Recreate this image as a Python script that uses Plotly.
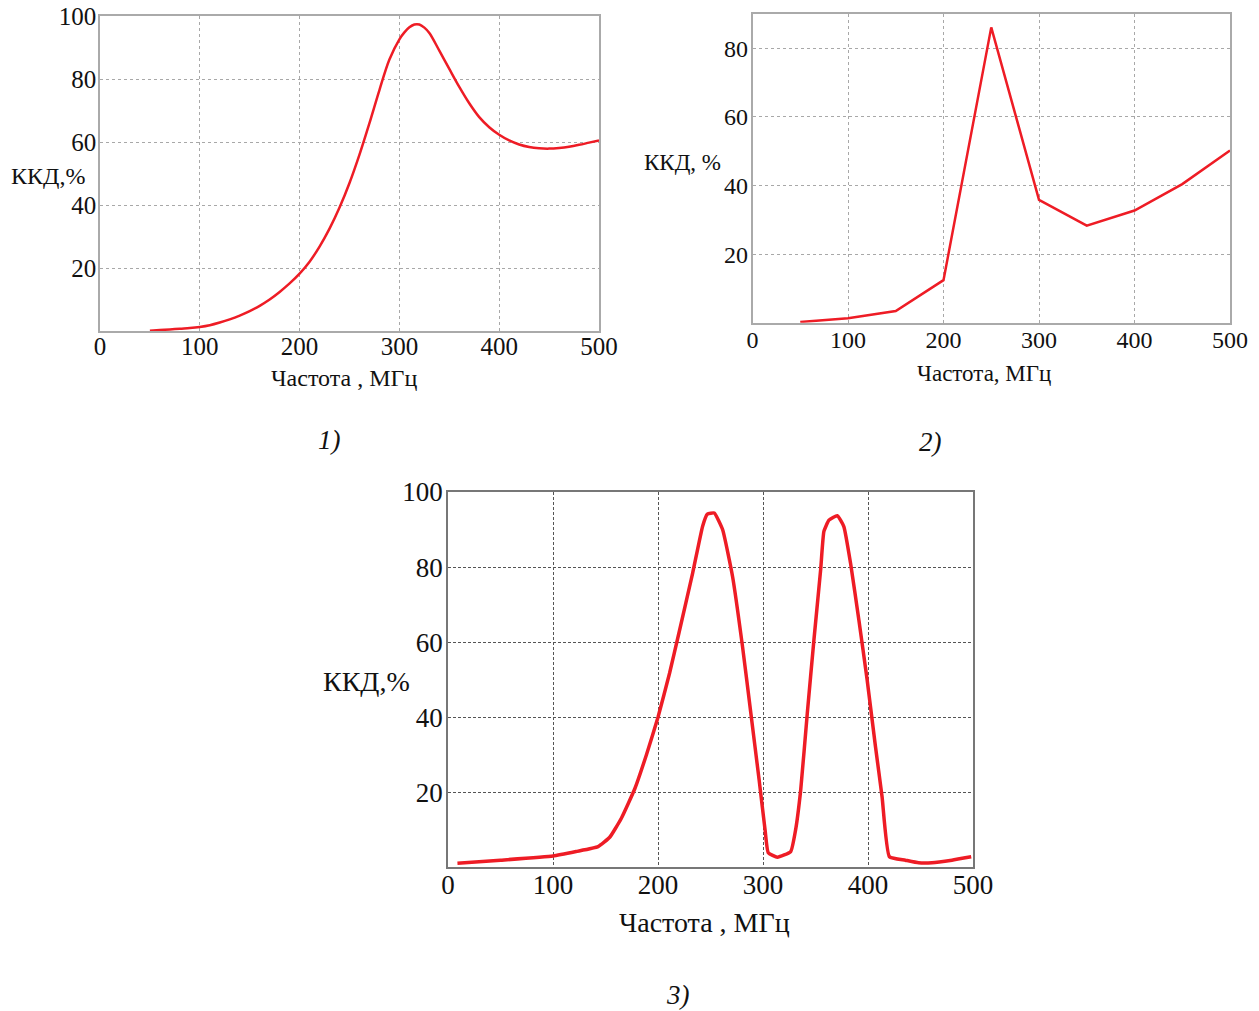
import plotly.graph_objects as go

W, H = 1259, 1011
SERIF = "Liberation Serif"
RED = "#ee1c25"

# Panel 1: smooth efficiency curve
freq_1 = [50, 60, 70, 80, 90, 100, 110, 120, 130, 140, 150, 160, 170, 180, 190,
          200, 210, 220, 230, 240, 250, 260, 270, 280, 290, 300, 305, 310, 315,
          320, 325, 330, 340, 350, 360, 370, 380, 390, 400, 410, 420, 430, 440,
          450, 460, 470, 480, 490, 500]
eff_1 = [0.1, 0.3, 0.5, 0.75, 0.95, 1.3, 1.85, 2.7, 3.7, 4.9, 6.3, 8.0, 10.0,
         12.4, 15.1, 18.2, 22.0, 26.8, 32.5, 39.2, 47.0, 56.0, 66.0, 76.5, 86.2,
         92.6, 94.8, 96.4, 97.3, 97.3, 96.3, 94.6, 89.0, 83.2, 77.5, 72.3, 67.9,
         64.7, 62.3, 60.5, 59.2, 58.4, 58.0, 57.9, 58.1, 58.5, 59.1, 59.8, 60.5]

# Panel 2: measured points joined by straight segments
freq_2 = [50, 100, 150, 200, 250, 300, 350, 400, 450, 500]
eff_2 = [0.2, 1.3, 3.4, 12.4, 86.1, 35.8, 28.3, 32.7, 40.4, 50.2]

# Panel 3: two-band efficiency curve
freq_3 = [9, 50, 100, 122, 143, 154, 165, 178, 189, 200, 211, 220, 233, 242.5,
          247, 253.6, 261.5, 271, 280.5, 288.4, 296.3, 302, 305, 313.7, 326.4,
          331, 335.9, 342.2, 348.5, 354.9, 358, 362.8, 370.7, 377, 383.4, 391.3,
          399.2, 407.1, 413.4, 420.4, 435.6, 448.2, 460.9, 479.9, 498.3]
eff_3 = [1.1, 1.9, 3.0, 4.2, 5.5, 8.0, 13.0, 21.0, 30.0, 40.0, 51.7, 62.5,
         78.4, 90.9, 94.1, 94.4, 90.0, 77.5, 58.8, 41.1, 23.3, 9.9, 3.9, 2.7,
         4.2, 9.9, 20.6, 41.1, 60.6, 79.3, 89.5, 92.5, 93.7, 90.8, 81.0, 65.9,
         49.9, 32.2, 18.8, 2.8, 1.9, 1.2, 1.2, 1.9, 2.8]

x_ticks = [0, 100, 200, 300, 400, 500]
y_ticks_100 = [20, 40, 60, 80, 100]
y_ticks_80 = [20, 40, 60, 80]

x_title_1 = "Частота , МГц"
x_title_2 = "Частота, МГц"
y_title_1 = "ККД,%"
y_title_2 = "ККД, %"
captions = ["1)", "2)", "3)"]


def px_x(p):
    return p / W


def px_y(p):
    return 1 - p / H


fig = go.Figure()
fig.add_trace(go.Scatter(x=freq_1, y=eff_1, mode="lines", xaxis="x", yaxis="y",
                         line=dict(color=RED, width=2.5, shape="spline", smoothing=1.0)))
fig.add_trace(go.Scatter(x=freq_2, y=eff_2, mode="lines", xaxis="x2", yaxis="y2",
                         line=dict(color=RED, width=2.5)))
fig.add_trace(go.Scatter(x=freq_3, y=eff_3, mode="lines", xaxis="x3", yaxis="y3",
                         line=dict(color=RED, width=3.5, shape="spline", smoothing=0.4)))


def x_axis(domain, anchor, size, standoff, grid_color, grid_dash, line_color):
    return dict(domain=domain, anchor=anchor, range=[0, 500], tickvals=x_ticks,
                ticktext=[str(v) for v in x_ticks], showgrid=True,
                gridcolor=grid_color, griddash=grid_dash, gridwidth=1,
                showline=True, linecolor=line_color, linewidth=1.5, mirror=True,
                ticks="", zeroline=False, automargin=False, fixedrange=True,
                ticklabelstandoff=standoff,
                tickfont=dict(family=SERIF, size=size, color="#111"))


def y_axis(domain, anchor, rng, vals, size, standoff, grid_color, grid_dash, line_color):
    return dict(domain=domain, anchor=anchor, range=rng, tickvals=vals,
                ticktext=[str(v) for v in vals], showgrid=True,
                gridcolor=grid_color, griddash=grid_dash, gridwidth=1,
                showline=True, linecolor=line_color, linewidth=1.5, mirror=True,
                ticks="", zeroline=False, automargin=False, fixedrange=True,
                ticklabelstandoff=standoff,
                tickfont=dict(family=SERIF, size=size, color="#111"))


light = "#a8a8a8"
dark = "#555555"

fig.update_layout(
    width=W, height=H, autosize=False,
    margin=dict(l=0, r=0, t=0, b=0, pad=0),
    paper_bgcolor="white", plot_bgcolor="white",
    showlegend=False,
    xaxis=x_axis([px_x(100), px_x(599)], "y", 25, -8, light, "dot", "#aaaaaa"),
    yaxis=y_axis([px_y(331), px_y(16)], "x", [0, 100], y_ticks_100, 25, -3, light, "dot", "#aaaaaa"),
    xaxis2=x_axis([px_x(752.5), px_x(1230)], "y2", 24, -5, light, "dot", "#aaaaaa"),
    yaxis2=y_axis([px_y(322.7), px_y(14)], "x2", [0, 90], y_ticks_80, 24, -2, light, "dot", "#aaaaaa"),
    xaxis3=x_axis([px_x(448), px_x(973)], "y3", 27, -7, dark, "3px,2px", "#777777"),
    yaxis3=y_axis([px_y(867.3), px_y(492)], "x3", [0, 100], y_ticks_100, 27, -2, dark, "3px,2px", "#777777"),
)


def label(text, cx, cy, size, italic=False):
    t = f"<i>{text}</i>" if italic else text
    fig.add_annotation(text=t, x=px_x(cx), y=px_y(cy), xref="paper", yref="paper",
                       showarrow=False, xanchor="center", yanchor="middle",
                       font=dict(family=SERIF, size=size, color="#111"))


# axis titles
label(x_title_1, 344, 378, 24)
label(y_title_1, 48, 176, 24)
label(x_title_2, 984, 373, 23)
label(y_title_2, 682, 163, 23)
label(x_title_1, 704, 922, 28)
label(y_title_1, 366, 681, 28)

# panel captions
label(captions[0], 330, 440, 27, italic=True)
label(captions[1], 930, 442, 27, italic=True)
label(captions[2], 678, 995, 27, italic=True)

fig.write_html("out.html")
